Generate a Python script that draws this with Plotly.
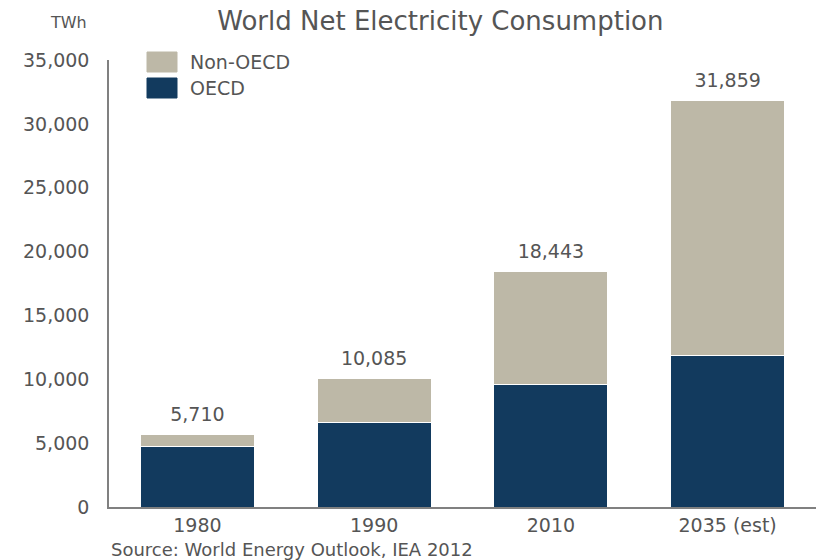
import plotly.graph_objects as go

categories = ["1980", "1990", "2010", "2035 (est)"]
oecd = [4700, 6580, 9630, 11900]
non_oecd = [1010, 3505, 8813, 19959]
totals = [o + n for o, n in zip(oecd, non_oecd)]
y_ticks = [0, 5000, 10000, 15000, 20000, 25000, 30000, 35000]

OECD_C = "#123a5e"
NON_C = "#bdb8a7"
TXT = "#555555"
FONT = "DejaVu Sans"

fig = go.Figure()
fig.add_trace(go.Bar(x=categories, y=oecd, name="OECD",
                     marker=dict(color=OECD_C, line=dict(color="white", width=1))))
fig.add_trace(go.Bar(x=categories, y=non_oecd, name="Non-OECD",
                     marker=dict(color=NON_C, line=dict(color="white", width=1))))
fig.add_trace(go.Scatter(x=categories, y=totals, mode="markers+text", text=[f"{t:,}" for t in totals],
                         marker=dict(size=12, opacity=0),
                         textposition="top center", textfont=dict(family=FONT, size=19, color=TXT),
                         hoverinfo="skip"))

# custom legend
legend_items = [("Non-OECD", NON_C), ("OECD", OECD_C)]
for i, (name, col) in enumerate(legend_items):
    y0 = 52 + i * 26
    fig.add_shape(type="rect", xref="paper", yref="paper",
                  x0=(147 - 109) / 707, x1=(177 - 109) / 707,
                  y0=1 - (y0 + 20 - 60) / 447, y1=1 - (y0 - 60) / 447,
                  fillcolor=col, line=dict(color=col, width=1))
    fig.add_annotation(xref="paper", yref="paper", x=(188 - 109) / 707, y=1 - (y0 + 10 - 60) / 447,
                       text=name, showarrow=False, xanchor="left", yanchor="middle",
                       font=dict(family=FONT, size=19, color=TXT))

fig.add_annotation(xref="paper", yref="paper", x=(89 - 109) / 707, y=1 + 38 / 447, text="TWh",
                   showarrow=False, xanchor="right", yanchor="middle",
                   font=dict(family=FONT, size=16, color=TXT))
fig.add_annotation(xref="paper", yref="paper", x=0, y=-42 / 447, text="Source: World Energy Outlook, IEA 2012",
                   showarrow=False, xanchor="left", yanchor="middle",
                   font=dict(family=FONT, size=18, color=TXT))

fig.update_layout(
    width=817, height=560,
    barmode="stack", bargap=0.355,
    showlegend=False,
    plot_bgcolor="white", paper_bgcolor="white",
    margin=dict(l=109, r=1, t=60, b=53),
    title=dict(text="World Net Electricity Consumption", x=0.539, xanchor="center", y=0.963, yanchor="middle",
               font=dict(family=FONT, size=26, color=TXT)),
    font=dict(family=FONT, color=TXT),
)
fig.update_yaxes(range=[0, 35000], tickvals=y_ticks, ticktext=[f"{v:,}" for v in y_ticks],
                 showgrid=False, zeroline=False, showline=True, linecolor="#808080", linewidth=1.5,
                 ticks="", ticklabelstandoff=14, tickfont=dict(family=FONT, size=19, color=TXT))
fig.update_xaxes(type="category", categoryorder="array", categoryarray=categories,
                 range=[-0.5, 3.5], showgrid=False, showline=True, linecolor="#808080", linewidth=1.5,
                 ticks="", tickfont=dict(family=FONT, size=19, color=TXT))

fig.write_html("out.html")
